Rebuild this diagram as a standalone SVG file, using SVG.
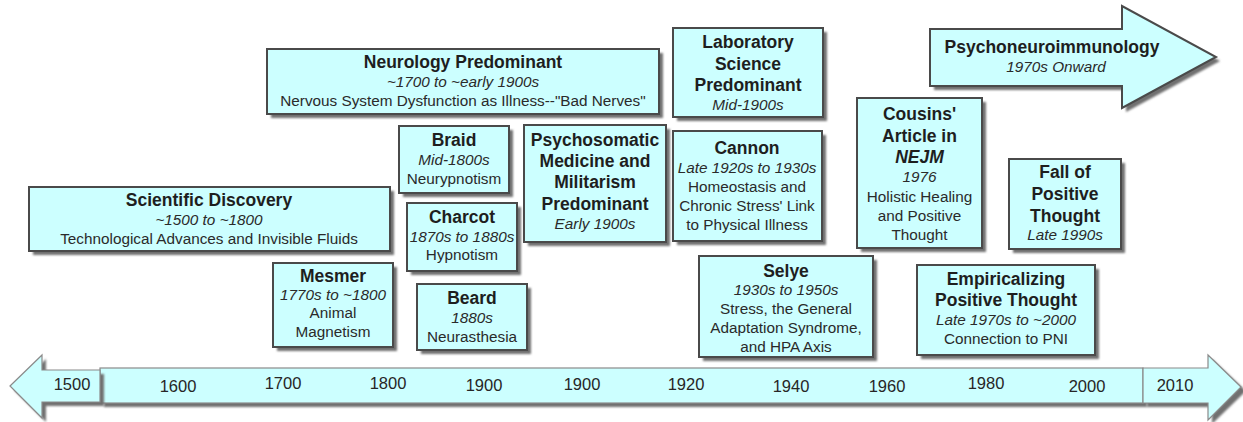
<svg xmlns="http://www.w3.org/2000/svg" width="1243" height="422" viewBox="0 0 1243 422">
  <defs>
    <filter id="soft" x="-5%" y="-5%" width="110%" height="110%">
      <feGaussianBlur stdDeviation="1"/>
    </filter>
  </defs>
  <style>
    text { font-family: "Liberation Sans", Arial, sans-serif; fill: #1e1e1e; text-anchor: middle; }
    .t { font-size: 17.5px; font-weight: bold; }
    .i { font-size: 15.3px; font-style: italic; fill: #2a2a2a; }
    .n { font-size: 15.3px; fill: #2a2a2a; }
    .bi { font-size: 17.5px; font-weight: bold; font-style: italic; }
    .yr { font-size: 16.5px; fill: #262626; }
    .box { fill: #ccffff; stroke: #4a4a4a; stroke-width: 2; }
    .shadow { fill: #707070; filter: url(#soft); }
    .axis { fill: #ccffff; stroke: #8a8a8a; stroke-width: 1.2; }
  </style>

  <rect width="1243" height="422" fill="#ffffff"/>

  <!-- timeline axis -->
  <g id="timeline">
    <rect class="shadow" x="104" y="372" width="1043" height="35"/>
    <rect class="axis" x="100" y="368" width="1043" height="35"/>
    <polygon class="shadow" points="14,390 46,359 46,374 104,374 104,406 46,406 46,422"/>
    <polygon class="axis" points="10,386 42,355 42,370 100,370 100,402 42,402 42,418"/>
    <polygon class="shadow" points="1147,372 1212,372 1212,359 1246,391 1212,424 1212,407 1147,407"/>
    <polygon class="axis" points="1143,368 1208,368 1208,355 1241,387 1208,420 1208,403 1143,403"/>
    <text class="yr" x="72" y="390">1500</text>
    <text class="yr" x="178" y="392">1600</text>
    <text class="yr" x="283" y="389">1700</text>
    <text class="yr" x="388" y="389">1800</text>
    <text class="yr" x="484" y="391">1900</text>
    <text class="yr" x="582" y="390">1900</text>
    <text class="yr" x="686" y="390">1920</text>
    <text class="yr" x="791" y="392">1940</text>
    <text class="yr" x="887" y="392">1960</text>
    <text class="yr" x="986" y="389">1980</text>
    <text class="yr" x="1087" y="392">2000</text>
    <text class="yr" x="1175" y="391">2010</text>
  </g>

  <g id="scientific-discovery">
    <rect class="shadow" x="33" y="191" width="361" height="64"/>
    <rect class="box" x="29" y="187" width="361" height="64"/>
    <text class="t" x="209" y="206">Scientific Discovery</text>
    <text class="i" x="209" y="225">~1500 to ~1800</text>
    <text class="n" x="209" y="244">Technological Advances and Invisible Fluids</text>
  </g>

  <g id="neurology">
    <rect class="shadow" x="271" y="53" width="392" height="65"/>
    <rect class="box" x="267" y="49" width="392" height="65"/>
    <text class="t" x="463" y="68">Neurology Predominant</text>
    <text class="i" x="463" y="87">~1700 to ~early 1900s</text>
    <text class="n" x="463" y="106">Nervous System Dysfunction as Illness--"Bad Nerves"</text>
  </g>

  <g id="mesmer">
    <rect class="shadow" x="277" y="267" width="120" height="84"/>
    <rect class="box" x="273" y="263" width="120" height="84"/>
    <text class="t" x="333" y="282">Mesmer</text>
    <text class="i" x="333" y="300">1770s to ~1800</text>
    <text class="n" x="333" y="318">Animal</text>
    <text class="n" x="333" y="337">Magnetism</text>
  </g>

  <g id="braid">
    <rect class="shadow" x="403" y="130" width="110" height="67"/>
    <rect class="box" x="399" y="126" width="110" height="67"/>
    <text class="t" x="454" y="146">Braid</text>
    <text class="i" x="454" y="165">Mid-1800s</text>
    <text class="n" x="454" y="184">Neurypnotism</text>
  </g>

  <g id="charcot">
    <rect class="shadow" x="411" y="207" width="110" height="68"/>
    <rect class="box" x="407" y="203" width="110" height="68"/>
    <text class="t" x="462" y="223">Charcot</text>
    <text class="i" x="462" y="242">1870s to 1880s</text>
    <text class="n" x="462" y="260">Hypnotism</text>
  </g>

  <g id="beard">
    <rect class="shadow" x="421" y="288" width="110" height="66"/>
    <rect class="box" x="417" y="284" width="110" height="66"/>
    <text class="t" x="472" y="304">Beard</text>
    <text class="i" x="472" y="323">1880s</text>
    <text class="n" x="472" y="342">Neurasthesia</text>
  </g>

  <g id="psychosomatic">
    <rect class="shadow" x="528" y="129" width="142" height="117"/>
    <rect class="box" x="524" y="125" width="142" height="117"/>
    <text class="t" x="595" y="146">Psychosomatic</text>
    <text class="t" x="595" y="167">Medicine and</text>
    <text class="t" x="595" y="188">Militarism</text>
    <text class="t" x="595" y="210">Predominant</text>
    <text class="i" x="595" y="229">Early 1900s</text>
  </g>

  <g id="laboratory">
    <rect class="shadow" x="677" y="32" width="150" height="89"/>
    <rect class="box" x="673" y="28" width="150" height="89"/>
    <text class="t" x="748" y="48">Laboratory</text>
    <text class="t" x="748" y="70">Science</text>
    <text class="t" x="748" y="91">Predominant</text>
    <text class="i" x="748" y="110">Mid-1900s</text>
  </g>

  <g id="cannon">
    <rect class="shadow" x="677" y="135" width="149" height="110"/>
    <rect class="box" x="673" y="131" width="149" height="110"/>
    <text class="t" x="747" y="154">Cannon</text>
    <text class="i" x="747" y="173">Late 1920s to 1930s</text>
    <text class="n" x="747" y="192">Homeostasis and</text>
    <text class="n" x="747" y="211">Chronic Stress' Link</text>
    <text class="n" x="747" y="230">to Physical Illness</text>
  </g>

  <g id="selye">
    <rect class="shadow" x="703" y="260" width="174" height="101"/>
    <rect class="box" x="699" y="256" width="174" height="101"/>
    <text class="t" x="786" y="277">Selye</text>
    <text class="i" x="786" y="295">1930s to 1950s</text>
    <text class="n" x="786" y="314">Stress, the General</text>
    <text class="n" x="786" y="333">Adaptation Syndrome,</text>
    <text class="n" x="786" y="352">and HPA Axis</text>
  </g>

  <g id="cousins">
    <rect class="shadow" x="861" y="102" width="125" height="150"/>
    <rect class="box" x="857" y="98" width="125" height="150"/>
    <text class="t" x="919.5" y="120">Cousins'</text>
    <text class="t" x="919.5" y="142">Article in</text>
    <text class="bi" x="919.5" y="163">NEJM</text>
    <text class="i" x="919.5" y="182">1976</text>
    <text class="n" x="919.5" y="202">Holistic Healing</text>
    <text class="n" x="919.5" y="221">and Positive</text>
    <text class="n" x="919.5" y="240">Thought</text>
  </g>

  <g id="fall-of-positive-thought">
    <rect class="shadow" x="1013" y="163" width="112" height="90"/>
    <rect class="box" x="1009" y="159" width="112" height="90"/>
    <text class="t" x="1065" y="178">Fall of</text>
    <text class="t" x="1065" y="200">Positive</text>
    <text class="t" x="1065" y="222">Thought</text>
    <text class="i" x="1065" y="240">Late 1990s</text>
  </g>

  <g id="empiricalizing">
    <rect class="shadow" x="921" y="269" width="178" height="90"/>
    <rect class="box" x="917" y="265" width="178" height="90"/>
    <text class="t" x="1006" y="285">Empiricalizing</text>
    <text class="t" x="1006" y="306">Positive Thought</text>
    <text class="i" x="1006" y="325">Late 1970s to ~2000</text>
    <text class="n" x="1006" y="344">Connection to PNI</text>
  </g>

  <g id="psychoneuroimmunology">
    <polygon class="shadow" points="934,33 1126,33 1126,10 1220,61 1126,112 1126,90 934,90"/>
    <polygon class="box" points="930,29 1122,29 1122,6 1216,57 1122,108 1122,86 930,86"/>
    <text class="t" x="1052" y="53">Psychoneuroimmunology</text>
    <text class="i" x="1056" y="72">1970s Onward</text>
  </g>
</svg>
